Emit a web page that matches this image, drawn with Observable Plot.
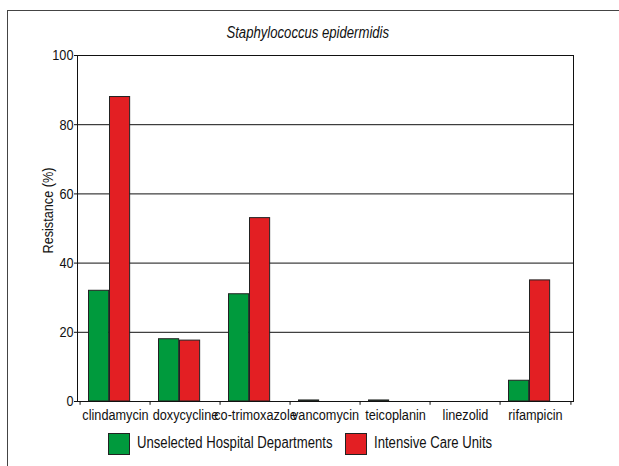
<!DOCTYPE html>
<html>
<head>
<meta charset="utf-8">
<script src="https://cdn.jsdelivr.net/npm/d3@7"></script>
<script src="https://cdn.jsdelivr.net/npm/@observablehq/plot@0.6"></script>
<style>
  body { margin: 0; background: #fff; }
  #wrap { position: relative; width: 619px; height: 466px; overflow: hidden; background: #fff;
          font-family: "Liberation Sans", Arial, sans-serif; }
  #outer { position: absolute; left: 7px; top: 10px; width: 800px; height: 800px;
           border-left: 1.5px solid #444; border-top: 1.5px solid #444; }
  #title { position: absolute; left: 0; width: 619px; top: 24px; text-align: center;
           font-style: italic; font-size: 16px; color: #111;
           transform: scaleX(0.82); transform-origin: 300px 0; }
  #chart { position: absolute; left: 0; top: 0; }
  .sw { position: absolute; top: 433px; width: 20px; height: 20px; border: 1px solid #222; }
  .lab { position: absolute; top: 434px; font-size: 16px; color: #111; white-space: nowrap;
         transform: scaleX(0.82); transform-origin: 0 0; }
</style>
</head>
<body>
<div id="wrap">
  <div id="outer"></div>
  <div id="title">Staphylococcus epidermidis</div>
  <div id="chart"></div>
  <div id="legend"></div>
</div>
<script>
const drugs = ["clindamycin", "doxycycline", "co-trimoxazole", "vancomycin", "teicoplanin", "linezolid", "rifampicin"];
const unselectedDepts = [32, 18, 31, 0.3, 0.3, 0, 6];
const intensiveCare = [88, 17.6, 53, 0, 0, 0, 35];
const seriesNames = ["Unselected Hospital Departments", "Intensive Care Units"];
const seriesColors = ["#009a3d", "#e31f23"];
const yTicks = [0, 20, 40, 60, 80, 100];
const gridTicks = [20, 40, 60, 80];

const W = 619, H = 425, mL = 77, mR = 46, mT = 55, mB = 24;
const step = (W - mL - mR) / drugs.length;
const narrow = 0.82;

const rows = drugs.flatMap((d, i) => [
  {drug: d, series: seriesNames[0], value: unselectedDepts[i]},
  {drug: d, series: seriesNames[1], value: intensiveCare[i]}
]);

const chart = Plot.plot({
  width: W, height: H,
  marginLeft: mL, marginRight: mR, marginTop: mT, marginBottom: mB,
  style: {fontFamily: '"Liberation Sans", Arial, sans-serif', fontSize: "15px", color: "#111", background: "transparent"},
  x: {domain: drugs, padding: 0},
  y: {domain: [0, 100]},
  color: {domain: seriesNames, range: seriesColors},
  marks: [
    Plot.ruleY(gridTicks, {stroke: "#111", strokeWidth: 1}),
    Plot.barY(rows.filter(r => r.series === seriesNames[0] && r.value > 0), {
      x: "drug", y: "value", fill: "series", stroke: "#222", strokeWidth: 1,
      insetLeft: 8.5, insetRight: step - 29.5
    }),
    Plot.barY(rows.filter(r => r.series === seriesNames[1] && r.value > 0), {
      x: "drug", y: "value", fill: "series", stroke: "#222", strokeWidth: 1,
      insetLeft: 29.5, insetRight: step - 50.5
    }),
    Plot.frame({stroke: "#111", strokeWidth: 1}),
    Plot.ruleX(drugs, {x: d => d, dx: -step / 2, y1: 0, y2: -1.1, stroke: "#111"}),
    Plot.ruleX(drugs.slice(-1), {x: d => d, dx: step / 2, y1: 0, y2: -1.1, stroke: "#111"}),
    Plot.axisY(yTicks, {
      tickSize: 3, tickPadding: 1, fontSize: 15.5,
      label: "Resistance (%)", labelAnchor: "center", labelArrow: "none", labelOffset: 36
    }),
    Plot.axisX({tickSize: 0, tickPadding: 7, fontSize: 15.5, label: null})
  ]
});

// narrow the lettering (Arial Narrow look) without changing anchors
chart.querySelectorAll('g[aria-label="x-axis tick label"] text, g[aria-label="y-axis tick label"] text')
  .forEach(t => t.setAttribute("transform", (t.getAttribute("transform") || "") + ` scale(${narrow},1)`));
chart.querySelectorAll('g[aria-label="y-axis label"] text')
  .forEach(t => t.setAttribute("transform", (t.getAttribute("transform") || "") + ` translate(18,0) scale(${narrow},1)`));

document.getElementById("chart").appendChild(chart);

const legend = document.getElementById("legend");
const legendLeft = [108, 345];
seriesNames.forEach((name, i) => {
  const sw = document.createElement("div");
  sw.className = "sw";
  sw.style.left = legendLeft[i] + "px";
  sw.style.background = seriesColors[i];
  const lab = document.createElement("span");
  lab.className = "lab";
  lab.style.left = (legendLeft[i] + 29) + "px";
  lab.textContent = name;
  legend.appendChild(sw);
  legend.appendChild(lab);
});
</script>
</body>
</html>
